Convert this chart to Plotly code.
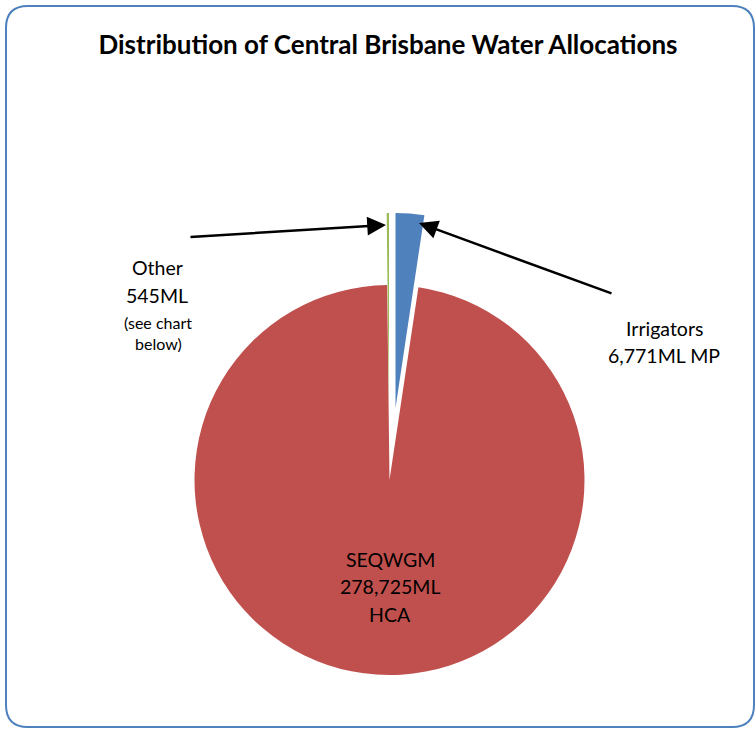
import plotly.graph_objects as go

# ---- data ----
labels = ["Irrigators", "SEQWGM", "Other"]
values = [6771, 278725, 545]
colors = ["#4F81BD", "#C0504D", "#9BBB59"]
title_text = "Distribution of Central Brisbane Water Allocations"
label_other = ["Other", "545ML"]
label_other_note = ["(see chart", "below)"]
label_irr = ["Irrigators", "6,771ML MP"]
label_seq = ["SEQWGM", "278,725ML", "HCA"]

W, H = 756, 729
FONT = "Lato"


def px(x):
    return x / W


def py(y):
    return 1 - y / H


R = 195  # pie radius in px
# slice centres (px): main pie, and exploded slices
centres = {
    "SEQWGM": (389.5, 480),
    "Irrigators": (395.5, 408),
    "Other": (389.0, 408),
}

fig = go.Figure()
for i, lab in enumerate(labels):
    cx, cy = centres[lab]
    cols = [colors[j] if j == i else "rgba(0,0,0,0)" for j in range(len(labels))]
    fig.add_trace(go.Pie(
        labels=labels,
        values=values,
        sort=False,
        direction="clockwise",
        rotation=0,
        marker=dict(colors=cols, line=dict(width=0)),
        textinfo="none",
        hoverinfo="label+value",
        showlegend=False,
        domain=dict(x=[px(cx - R), px(cx + R)], y=[py(cy + R), py(cy - R)]),
    ))

# rounded border box
x0, x1, y0, y1, rr = 6, 754, 6, 727, 22
path = (
    f"M {px(x0 + rr)} {py(y0)} L {px(x1 - rr)} {py(y0)} "
    f"Q {px(x1)} {py(y0)} {px(x1)} {py(y0 + rr)} "
    f"L {px(x1)} {py(y1 - rr)} Q {px(x1)} {py(y1)} {px(x1 - rr)} {py(y1)} "
    f"L {px(x0 + rr)} {py(y1)} Q {px(x0)} {py(y1)} {px(x0)} {py(y1 - rr)} "
    f"L {px(x0)} {py(y0 + rr)} Q {px(x0)} {py(y0)} {px(x0 + rr)} {py(y0)} Z"
)
fig.add_shape(type="path", path=path, xref="paper", yref="paper",
              line=dict(color="#4F81BD", width=2), fillcolor="rgba(0,0,0,0)", layer="below")

anns = []
def text_lines(lines, x, y_first, step, size):
    for k, t in enumerate(lines):
        anns.append(dict(text=t, x=px(x), y=py(y_first + k * step), xref="paper", yref="paper",
                         showarrow=False, xanchor="center", yanchor="middle",
                         font=dict(family=FONT, size=size, color="#000000"), align="center"))

text_lines(label_other, 157, 267, 28, 19.5)
text_lines(label_other_note, 158, 322, 21, 16)
text_lines(label_irr, 664, 328, 28, 19.5)
text_lines(label_seq, 390, 559, 27.5, 19.5)

# arrows: tip (x, y) and tail (tx, ty) in px
for (x, y, tx, ty) in [(386, 225, 189, 237), (419, 223, 613, 294)]:
    anns.append(dict(text="", x=px(x), y=py(y), xref="paper", yref="paper",
                     ax=tx - x, ay=ty - y, showarrow=True, arrowhead=2,
                     arrowsize=1.5, arrowwidth=2.5, arrowcolor="#000000",
                     standoff=0))

fig.update_layout(
    width=W, height=H,
    margin=dict(l=0, r=0, t=0, b=0),
    paper_bgcolor="white",
    plot_bgcolor="white",
    title=dict(text=f"<b>{title_text}</b>", x=px(388), y=py(45),
               xanchor="center", yanchor="middle",
               font=dict(family=FONT, size=26, color="#000000")),
    annotations=anns,
)

fig.write_html("out.html", config={"displayModeBar": False},
               post_script="document.body.style.margin='0px';")
